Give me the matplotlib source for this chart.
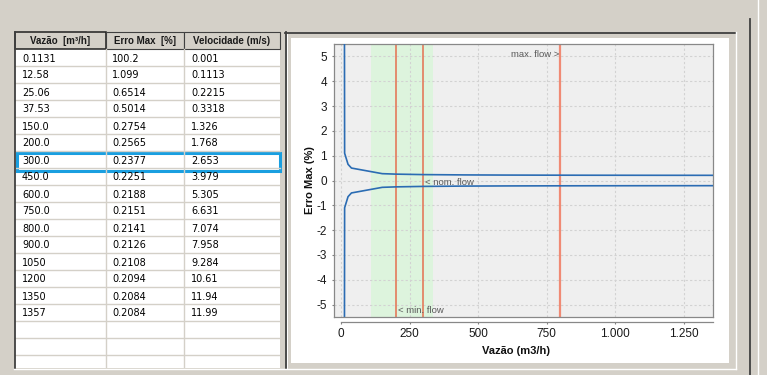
import matplotlib
matplotlib.use("Agg")
import matplotlib.pyplot as plt
from matplotlib.patches import Rectangle
from matplotlib.ticker import FuncFormatter, FixedLocator

# ---------------- data ----------------
col_headers = ["Vazão  [m³/h]", "Erro Max  [%]", "Velocidade (m/s)"]
vazao_txt = ["0.1131", "12.58", "25.06", "37.53", "150.0", "200.0", "300.0", "450.0",
             "600.0", "750.0", "800.0", "900.0", "1050", "1200", "1350", "1357"]
erro_txt = ["100.2", "1.099", "0.6514", "0.5014", "0.2754", "0.2565", "0.2377", "0.2251",
            "0.2188", "0.2151", "0.2141", "0.2126", "0.2108", "0.2094", "0.2084", "0.2084"]
vel_txt = ["0.001", "0.1113", "0.2215", "0.3318", "1.326", "1.768", "2.653", "3.979",
           "5.305", "6.631", "7.074", "7.958", "9.284", "10.61", "11.94", "11.99"]
selected_row = 6

vazao = [float(v) for v in vazao_txt]
erro_pos = [float(v) for v in erro_txt]
erro_neg = [-float(v) for v in erro_txt]

min_flow, nom_flow, max_flow = 200, 300, 800
band_lo, band_hi = 110, 336
x_ticks = [0, 250, 500, 750, 1000, 1250]
y_ticks = [-5, -4, -3, -2, -1, 0, 1, 2, 3, 4, 5]
x_range = (-28, 1357)
y_range = (-5.5, 5.5)

# ---------------- figure ----------------
plt.rcParams['font.family'] = ['Liberation Sans', 'DejaVu Sans']
plt.rcParams['axes.unicode_minus'] = False

W, H = 767, 375
GRAY = '#d4d0c8'
fig = plt.figure(figsize=(W / 100, H / 100), dpi=100, facecolor=GRAY)

bg = fig.add_axes([0, 0, 1, 1])
bg.set_xlim(0, W)
bg.set_ylim(H, 0)
bg.axis('off')

# ---- table ----
tx0, tx1 = 15, 280
col_edges = [15, 106, 184, 280]
header_top, header_bot = 32, 49
row_h = 17
table_bot = 368

bg.add_patch(Rectangle((tx0, header_bot), tx1 - tx0, table_bot - header_bot,
                       facecolor='white', edgecolor='none'))
# grid lines of table
n_lines = int((table_bot - header_bot) // row_h)
for k in range(1, n_lines + 1):
    y = header_bot + row_h * k
    bg.plot([tx0, tx1], [y, y], color=GRAY, lw=1)
for xc in col_edges[1:3]:
    bg.plot([xc, xc], [header_bot, table_bot], color=GRAY, lw=1)
# header cells
for i, h in enumerate(col_headers):
    xa, xb = col_edges[i], col_edges[i + 1]
    bg.add_patch(Rectangle((xa, header_top), xb - xa, header_bot - header_top,
                           facecolor=GRAY, edgecolor='#202020' if i == 0 else '#404040',
                           lw=1.1 if i == 0 else 0.8))
    bg.text((xa + xb) / 2, (header_top + header_bot) / 2 + 0.5, h, ha='center', va='center',
            fontsize=7, fontweight='bold', color='#1a1a1a', family=['Liberation Sans', 'DejaVu Sans'])
# cell text
col_text_x = [22, 112, 191]
for r, (a, b, c) in enumerate(zip(vazao_txt, erro_txt, vel_txt)):
    yc = header_bot + row_h * r + 9.5
    for xt, t in zip(col_text_x, (a, b, c)):
        bg.text(xt, yc, t, ha='left', va='center', fontsize=7, color='black',
                family=['DejaVu Sans'])
# selected row frame
ys = header_bot + row_h * selected_row
bg.add_patch(Rectangle((16.5, ys + 1.5), 263, 18, facecolor='none',
                       edgecolor='#1a9fe0', lw=2.2))
# table borders
bg.plot([15, 15], [header_top, table_bot], color='#404040', lw=1.3)
bg.plot([285.5, 285.5], [header_top, table_bot], color='#404040', lw=1.3)
bg.plot([287, 287], [header_top + 2, table_bot], color='white', lw=0.7)

# ---- chart frame ----
bg.plot([285, 735], [32.5, 32.5], color='#404040', lw=1.3)
bg.plot([735.5, 735.5], [32, 368.5], color='white', lw=1)
bg.plot([14, 736], [368.5, 368.5], color='white', lw=1)
bg.add_patch(Rectangle((291, 38), 729 - 291, 363 - 38, facecolor='white', edgecolor='none'))
bg.plot([749.5, 749.5], [19, H], color='#404040', lw=1.3)
bg.plot([757.5, 757.5], [0, H], color='white', lw=1)

# ---------------- chart ----------------
L, R, T, B = 333.5, 713, 44, 317
ax = fig.add_axes([L / W, 1 - B / H, (R - L) / W, (B - T) / H])
ax.set_facecolor('#efefef')
ax.set_xlim(*x_range)
ax.set_ylim(*y_range)
ax.set_axisbelow(True)

ax.axvspan(band_lo, band_hi, color='#ddf4dd', zorder=0.2, lw=0)
ax.grid(True, color='#d2d2d2', linestyle=(0, (2, 2)), lw=0.8)

ax.axvline(min_flow, color='#e4704f', lw=1.1, zorder=2)
ax.axvline(nom_flow, color='#e4704f', lw=1.1, zorder=2)
ax.axvline(max_flow, color='#f08a74', lw=1.6, zorder=2)

ax.plot(vazao, erro_pos, color='#2b6cb3', lw=1.2, zorder=3)
ax.plot(vazao, erro_neg, color='#2b6cb3', lw=1.2, zorder=3)

ann = dict(fontsize=6.8, color='#5a5a5a')
ax.text(max_flow - 4, 5.08, 'max. flow >', ha='right', va='center', **ann)
ax.text(nom_flow + 6, -0.08, '< nom. flow', ha='left', va='center', **ann)
ax.text(min_flow + 6, -5.25, '< min. flow', ha='left', va='center', **ann)

for s in ('top', 'right', 'left'):
    ax.spines[s].set_color('#888888')
    ax.spines[s].set_linewidth(0.9)
ax.spines['bottom'].set_position(('outward', 3.3))
ax.spines['bottom'].set_bounds(0, x_range[1])
ax.spines['bottom'].set_color('#888888')
ax.spines['bottom'].set_linewidth(0.9)
ax.plot([0, 1], [0, 0], transform=ax.transAxes, color='#888888', lw=0.9, clip_on=False, zorder=4)

ax.xaxis.set_major_locator(FixedLocator(x_ticks))
ax.yaxis.set_major_locator(FixedLocator(y_ticks))
ax.xaxis.set_major_formatter(FuncFormatter(lambda v, p: f"{int(round(v)):,}".replace(',', '.')))
ax.yaxis.set_major_formatter(FuncFormatter(lambda v, p: f"{int(round(v))}"))
ax.tick_params(axis='both', length=1.6, width=0.8, color='#808080',
               labelsize=8.5, labelcolor='#1a1a1a', pad=3)

fig.text(310 / W, 1 - 180.5 / H, 'Erro Max (%)', rotation=90, ha='center', va='center',
         fontsize=8, fontweight='bold', color='#111111')
fig.text(516.5 / W, 1 - 351 / H, 'Vazão (m3/h)', ha='center', va='center',
         fontsize=8, fontweight='bold', color='#111111')

fig.savefig('out.png', dpi=100, facecolor=GRAY)
